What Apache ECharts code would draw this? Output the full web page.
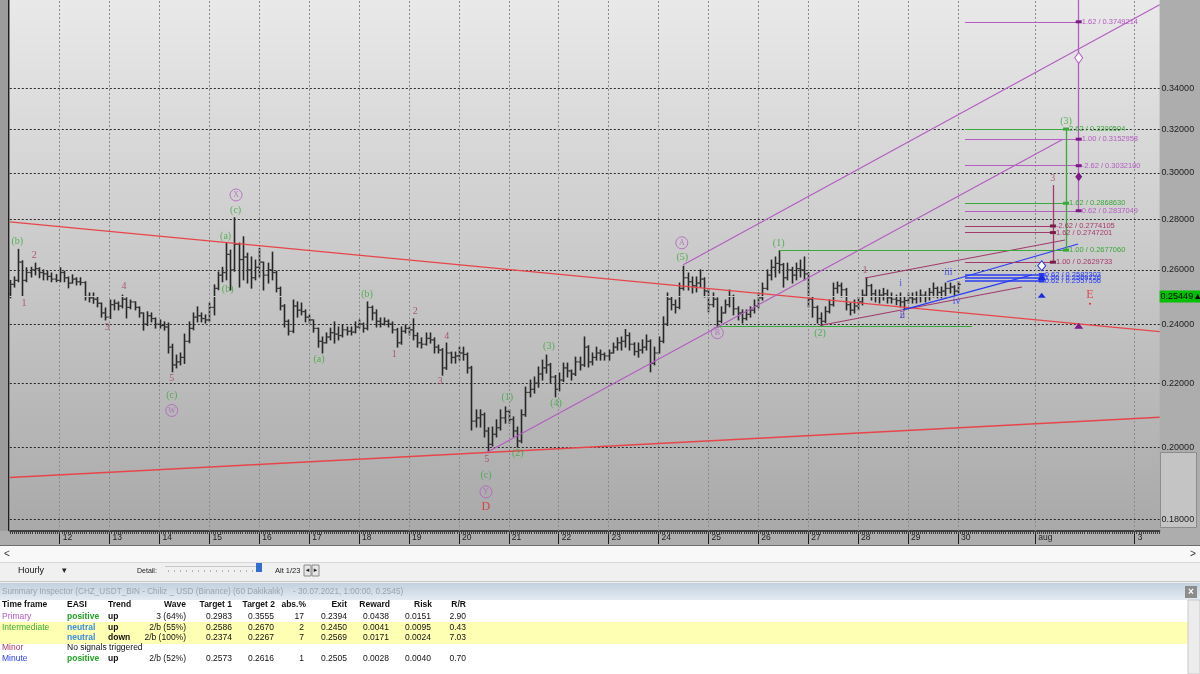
<!DOCTYPE html>
<html>
<head>
<meta charset="utf-8">
<title>CHZ/USDT hourly - Elliott wave chart</title>
<script src="https://cdn.jsdelivr.net/npm/echarts@6.0.0/dist/echarts.min.js"></script>
<style>
html,body{margin:0;padding:0;background:#f0f0f0;overflow:hidden;}
#chart{width:1200px;height:674px;}
</style>
</head>
<body>
<div id="chart"></div>
<script>
// ================= DATA =================
// 2-hour OHLC bars, first bar = 11 Jul 2021 00:00 (hour -24, hours counted from 12 Jul 00:00)
const BAR_FIRST_HOUR = -24;
const BAR_HOURS = 2;
const barOpen = [
0.2510,0.2545,0.2560,0.2630,0.2560,0.2590,0.2600,0.2605,0.2590,0.2585,
0.2575,0.2565,0.2560,0.2590,0.2570,0.2550,0.2565,0.2555,0.2552,0.2500,
0.2495,0.2490,0.2475,0.2440,0.2425,0.2470,0.2475,0.2465,0.2490,0.2460,
0.2480,0.2460,0.2440,0.2400,0.2430,0.2420,0.2400,0.2395,0.2390,0.2320,
0.2260,0.2270,0.2285,0.2340,0.2385,0.2425,0.2430,0.2420,0.2415,0.2460,
0.2530,0.2580,0.2590,0.2660,0.2600,0.2700,0.2640,0.2650,0.2600,0.2570,
0.2610,0.2630,0.2580,0.2600,0.2590,0.2530,0.2465,0.2410,0.2375,0.2465,
0.2450,0.2445,0.2425,0.2415,0.2385,0.2340,0.2335,0.2355,0.2370,0.2365,
0.2360,0.2380,0.2375,0.2372,0.2390,0.2400,0.2385,0.2460,0.2440,0.2410,
0.2400,0.2410,0.2400,0.2380,0.2335,0.2375,0.2385,0.2380,0.2360,0.2335,
0.2330,0.2350,0.2345,0.2320,0.2310,0.2250,0.2300,0.2285,0.2290,0.2300,
0.2295,0.2250,0.2080,0.2090,0.2100,0.2050,0.2010,0.2040,0.2060,0.2090,
0.2110,0.2085,0.2050,0.2020,0.2100,0.2170,0.2180,0.2200,0.2230,0.2250,
0.2260,0.2220,0.2180,0.2210,0.2250,0.2240,0.2230,0.2270,0.2260,0.2320,
0.2270,0.2285,0.2300,0.2295,0.2290,0.2300,0.2320,0.2335,0.2340,0.2360,
0.2330,0.2305,0.2310,0.2320,0.2340,0.2265,0.2300,0.2340,0.2400,0.2490,
0.2470,0.2460,0.2530,0.2570,0.2555,0.2540,0.2550,0.2565,0.2520,0.2470,
0.2490,0.2410,0.2440,0.2470,0.2500,0.2455,0.2440,0.2420,0.2435,0.2450,
0.2465,0.2495,0.2530,0.2580,0.2610,0.2625,0.2620,0.2570,0.2600,0.2580,
0.2605,0.2600,0.2585,0.2490,0.2460,0.2420,0.2410,0.2445,0.2470,0.2530,
0.2540,0.2525,0.2470,0.2450,0.2465,0.2480,0.2505,0.2540,0.2510,0.2500,
0.2505,0.2510,0.2495,0.2490,0.2485,0.2480,0.2485,0.2495,0.2490,0.2500,
0.2505,0.2500,0.2515,0.2530,0.2515,0.2520,0.2530,0.2535,0.2520];
const barHigh = [
0.2560,0.2573,0.2680,0.2635,0.2608,0.2610,0.2626,0.2608,0.2600,0.2595,
0.2588,0.2582,0.2608,0.2595,0.2573,0.2581,0.2570,0.2570,0.2555,0.2513,
0.2513,0.2498,0.2476,0.2458,0.2487,0.2487,0.2480,0.2505,0.2495,0.2487,
0.2480,0.2462,0.2440,0.2444,0.2440,0.2422,0.2415,0.2408,0.2404,0.2330,
0.2293,0.2300,0.2365,0.2408,0.2440,0.2462,0.2440,0.2433,0.2476,0.2543,
0.2592,0.2610,0.2705,0.2677,0.2808,0.2705,0.2730,0.2665,0.2650,0.2638,
0.2684,0.2630,0.2626,0.2669,0.2595,0.2535,0.2470,0.2415,0.2487,0.2480,
0.2476,0.2451,0.2433,0.2415,0.2386,0.2355,0.2369,0.2386,0.2408,0.2390,
0.2397,0.2390,0.2390,0.2408,0.2415,0.2404,0.2480,0.2465,0.2451,0.2422,
0.2422,0.2415,0.2408,0.2385,0.2390,0.2397,0.2390,0.2419,0.2369,0.2352,
0.2369,0.2369,0.2352,0.2327,0.2315,0.2334,0.2303,0.2303,0.2320,0.2320,
0.2300,0.2255,0.2115,0.2115,0.2105,0.2060,0.2062,0.2084,0.2115,0.2124,
0.2115,0.2093,0.2062,0.2115,0.2187,0.2210,0.2220,0.2253,0.2276,0.2293,
0.2265,0.2225,0.2233,0.2266,0.2266,0.2243,0.2286,0.2286,0.2355,0.2325,
0.2300,0.2320,0.2310,0.2300,0.2310,0.2334,0.2352,0.2355,0.2381,0.2369,
0.2335,0.2334,0.2345,0.2362,0.2345,0.2320,0.2355,0.2426,0.2513,0.2498,
0.2487,0.2550,0.2614,0.2588,0.2573,0.2573,0.2600,0.2570,0.2525,0.2513,
0.2495,0.2462,0.2487,0.2524,0.2505,0.2462,0.2451,0.2451,0.2462,0.2487,
0.2513,0.2550,0.2600,0.2638,0.2650,0.2675,0.2625,0.2626,0.2610,0.2626,
0.2638,0.2650,0.2590,0.2498,0.2465,0.2440,0.2462,0.2487,0.2550,0.2554,
0.2550,0.2530,0.2476,0.2487,0.2498,0.2524,0.2569,0.2545,0.2524,0.2524,
0.2530,0.2524,0.2513,0.2505,0.2513,0.2498,0.2513,0.2513,0.2517,0.2524,
0.2517,0.2530,0.2550,0.2535,0.2535,0.2550,0.2550,0.2540,0.2554];
const barLow = [
0.2495,0.2535,0.2555,0.2500,0.2555,0.2573,0.2581,0.2570,0.2562,0.2562,
0.2555,0.2555,0.2555,0.2555,0.2532,0.2550,0.2543,0.2543,0.2487,0.2480,
0.2475,0.2462,0.2425,0.2415,0.2420,0.2451,0.2451,0.2458,0.2422,0.2455,
0.2451,0.2425,0.2379,0.2395,0.2408,0.2386,0.2386,0.2379,0.2300,0.2237,
0.2250,0.2260,0.2265,0.2335,0.2380,0.2408,0.2408,0.2404,0.2410,0.2433,
0.2525,0.2555,0.2562,0.2524,0.2595,0.2535,0.2562,0.2550,0.2531,0.2562,
0.2573,0.2524,0.2550,0.2562,0.2517,0.2451,0.2390,0.2362,0.2370,0.2425,
0.2433,0.2408,0.2404,0.2372,0.2320,0.2300,0.2334,0.2345,0.2334,0.2345,
0.2355,0.2362,0.2362,0.2369,0.2386,0.2372,0.2380,0.2415,0.2390,0.2390,
0.2397,0.2390,0.2369,0.2320,0.2330,0.2369,0.2362,0.2345,0.2320,0.2317,
0.2327,0.2334,0.2300,0.2300,0.2226,0.2245,0.2266,0.2266,0.2276,0.2276,
0.2233,0.2053,0.2062,0.2062,0.2032,0.1989,0.2005,0.2032,0.2053,0.2074,
0.2074,0.2032,0.2002,0.2015,0.2095,0.2156,0.2168,0.2187,0.2210,0.2233,
0.2200,0.2156,0.2175,0.2205,0.2220,0.2210,0.2225,0.2243,0.2255,0.2253,
0.2260,0.2276,0.2276,0.2276,0.2276,0.2300,0.2310,0.2310,0.2320,0.2310,
0.2293,0.2286,0.2300,0.2310,0.2237,0.2260,0.2300,0.2335,0.2395,0.2451,
0.2440,0.2455,0.2524,0.2524,0.2513,0.2517,0.2535,0.2498,0.2444,0.2462,
0.2390,0.2405,0.2440,0.2462,0.2433,0.2415,0.2404,0.2415,0.2425,0.2440,
0.2458,0.2487,0.2525,0.2562,0.2573,0.2588,0.2535,0.2562,0.2550,0.2562,
0.2573,0.2562,0.2462,0.2425,0.2404,0.2395,0.2405,0.2440,0.2465,0.2513,
0.2498,0.2451,0.2433,0.2440,0.2451,0.2469,0.2500,0.2487,0.2480,0.2476,
0.2487,0.2476,0.2476,0.2470,0.2462,0.2451,0.2476,0.2476,0.2476,0.2480,
0.2480,0.2487,0.2498,0.2495,0.2495,0.2498,0.2513,0.2505,0.2513];
const barClose = [
0.2545,0.2560,0.2630,0.2560,0.2590,0.2600,0.2605,0.2590,0.2585,0.2575,
0.2565,0.2560,0.2590,0.2570,0.2550,0.2565,0.2555,0.2552,0.2500,0.2495,
0.2490,0.2475,0.2440,0.2425,0.2470,0.2475,0.2465,0.2490,0.2460,0.2480,
0.2460,0.2440,0.2400,0.2430,0.2420,0.2400,0.2395,0.2390,0.2320,0.2260,
0.2270,0.2285,0.2340,0.2385,0.2425,0.2430,0.2420,0.2415,0.2460,0.2530,
0.2580,0.2590,0.2660,0.2600,0.2700,0.2640,0.2650,0.2600,0.2570,0.2610,
0.2630,0.2580,0.2600,0.2590,0.2530,0.2465,0.2410,0.2375,0.2465,0.2450,
0.2445,0.2425,0.2415,0.2385,0.2340,0.2335,0.2355,0.2370,0.2365,0.2360,
0.2380,0.2375,0.2372,0.2390,0.2400,0.2385,0.2460,0.2440,0.2410,0.2400,
0.2410,0.2400,0.2380,0.2335,0.2375,0.2385,0.2380,0.2360,0.2335,0.2330,
0.2350,0.2345,0.2320,0.2310,0.2250,0.2300,0.2285,0.2290,0.2300,0.2295,
0.2250,0.2080,0.2090,0.2100,0.2050,0.2010,0.2040,0.2060,0.2090,0.2110,
0.2085,0.2050,0.2020,0.2100,0.2170,0.2180,0.2200,0.2230,0.2250,0.2260,
0.2220,0.2180,0.2210,0.2250,0.2240,0.2230,0.2270,0.2260,0.2320,0.2270,
0.2285,0.2300,0.2295,0.2290,0.2300,0.2320,0.2335,0.2340,0.2360,0.2330,
0.2305,0.2310,0.2320,0.2340,0.2265,0.2300,0.2340,0.2400,0.2490,0.2470,
0.2460,0.2530,0.2570,0.2555,0.2540,0.2550,0.2565,0.2520,0.2470,0.2490,
0.2410,0.2440,0.2470,0.2500,0.2455,0.2440,0.2420,0.2435,0.2450,0.2465,
0.2495,0.2530,0.2580,0.2610,0.2625,0.2620,0.2570,0.2600,0.2580,0.2605,
0.2600,0.2585,0.2490,0.2460,0.2420,0.2410,0.2445,0.2470,0.2530,0.2540,
0.2525,0.2470,0.2450,0.2465,0.2480,0.2505,0.2540,0.2510,0.2500,0.2505,
0.2510,0.2495,0.2490,0.2485,0.2480,0.2485,0.2495,0.2490,0.2500,0.2505,
0.2500,0.2515,0.2530,0.2515,0.2520,0.2530,0.2535,0.2520,0.2545];
const lastPrice = 0.25449;

// time axis ticks (hours from 12 Jul 00:00)
const dayTickHours  = [0,24,48,72,96,120,144,168,192,216,240,264,288,312,336,360,384,408,432,469.2,517];
const dayTickLabels = ['12','13','14','15','16','17','18','19','20','21','22','23','24','25','26','27','28','29','30','aug','3'];
// price ticks
const priceTicks      = [0.18,0.20,0.22,0.24,0.26,0.28,0.30,0.32,0.34];
const priceTickLabels = ['0.18000','0.20000','0.22000','0.24000','0.26000','0.28000','0.30000','0.32000','0.34000'];
const axisMinHour = -24, axisMaxHour = 529;
const axisMinPrice = 0.17688, axisMaxPrice = 0.38717;

// Elliott wave labels
const waveText   = ['(b)','2','1','4','3','5','(c)','W','(a)','(b)','(c)','X','(a)','(b)','1','2','4','3','5','(c)','Y','D','(1)','(2)','(3)','(4)','(5)','A','B','(1)','(2)','1','i','2','ii','iii','iv','3','(3)','E'];
const waveHour   = [-20.4,-12.2,-17.2,30.9,22.9,53.9,53.9,53.9,79.8,80.8,84.6,84.8,124.7,147.8,160.9,171.0,186.1,183.0,205.4,205.0,205.0,205.0,215.3,220.3,235.3,238.7,299.4,299.2,316.3,345.8,365.7,387.3,404.5,405.1,405.4,427.4,431.4,477.6,484.0,495.5];
const wavePrice  = [0.2710,0.2658,0.2475,0.2539,0.2389,0.2216,0.2162,0.2113,0.2730,0.2527,0.2837,0.2904,0.2279,0.2508,0.2296,0.2447,0.2358,0.2205,0.1966,0.1919,0.1874,0.1832,0.2155,0.1984,0.2321,0.2136,0.2649,0.2706,0.2370,0.2704,0.2368,0.2597,0.2550,0.2433,0.2433,0.2589,0.2481,0.2977,0.3239,0.2505];
const waveDegree = ['Int','Minor','Minor','Minor','Minor','Minor','Int','Prim','Int','Int','Int','Prim','Int','Int','Minor','Minor','Minor','Minor','Minor','Int','Prim','Cycle','Int','Int','Int','Int','Int','Prim','Prim','Int','Int','Minor','Minute','Minor','Minute','Minute','Minute','Minor','Int','Cycle'];

// trend / channel lines [hour1, price1, hour2, price2]
const trendDegree = ['Cycle','Cycle','Prim','Prim','Minor','Minor','Minute','Minute','Int'];
const trendH1 = [-24, -24, 205.6, 299.9, 387.3, 365.7, 426.7, 405.6, 316.5];
const trendP1 = [0.2791, 0.1914, 0.1987, 0.2620, 0.2569, 0.2395, 0.2555, 0.2451, 0.2394];
const trendH2 = [529, 529, 482.5, 529, 483.5, 462.8, 489.8, 467.6, 438.8];
const trendP2 = [0.2374, 0.2092, 0.3153, 0.3845, 0.2717, 0.2535, 0.2701, 0.2581, 0.2394];

// Fibonacci target lines
const targetDegree = ['Prim','Prim','Prim','Prim','Int','Int','Int','Minor','Minor','Minor','Minute','Minute','Minute'];
const targetText   = ['1.62 / 0.3749214','1.00 / 0.3152958','-2.62 / 0.3032100','0.62 / 0.2837049','2.62 / 0.3200504','1.62 / 0.2868630','1.00 / 0.2677060','-2.62 / 0.2774105','1.62 / 0.2747201','1.00 / 0.2629733','0.62 / 0.2582303','1.00 / 0.2569726','0.62 / 0.2557556'];
const targetPrice  = [0.3749214,0.3152958,0.3032100,0.2837049,0.3200504,0.2868630,0.2677060,0.2774105,0.2747201,0.2629733,0.2582303,0.2569726,0.2557556];
const targetFromHour = [435.4,435.4,435.4,435.4,435.4,435.4,346.0,435.4,435.4,435.4,435.4,435.4,435.4];
const degreeTargetHour = {Prim:490.1, Int:484.0, Minor:477.7, Minute:472.3};
const degreeVertical = {Prim:[0.38717,0.2837049], Int:[0.3200504,0.2677060], Minor:[0.2947,0.2629733]};

// Summary inspector
const tfName    = ['Primary','Intermediate','','Minor','Minute'];
const tfDegree  = ['Prim','Int','Int','Minor','Minute'];
const tfEasi    = ['positive','neutral','neutral','No signals triggered','positive'];
const tfTrend   = ['up','up','down','','up'];
const tfWave    = ['3 (64%)','2/b (55%)','2/b (100%)','','2/b (52%)'];
const tfTarget1 = ['0.2983','0.2586','0.2374','','0.2573'];
const tfTarget2 = ['0.3555','0.2670','0.2267','','0.2616'];
const tfAbs     = ['17','2','7','','1'];
const tfExit    = ['0.2394','0.2450','0.2569','','0.2505'];
const tfReward  = ['0.0438','0.0041','0.0171','','0.0028'];
const tfRisk    = ['0.0151','0.0095','0.0024','','0.0040'];
const tfRR      = ['2.90','0.43','7.03','','0.70'];

// ================= STYLES =================
const COL = {Cycle:'#e8454a', Prim:'#b45cc2', Int:'#3aa83a', Minor:'#a23a6c', Minute:'#2a3cf2'};
const TXT = {Cycle:'#e02c2c', Prim:'#b45cc2', Int:'#3aa83a', Minor:'#a8386c', Minute:'#2a3cf2'};
const SANS = '"Liberation Sans", Arial, sans-serif';
const SERIF = '"Liberation Serif", "Times New Roman", serif';

const chart = echarts.init(document.getElementById('chart'), null, {renderer:'canvas'});

const ohlcData = barOpen.map((o, i) => [BAR_FIRST_HOUR + i * BAR_HOURS, o, barClose[i], barLow[i], barHigh[i]]);

function renderOHLC(params, api) {
  const t = api.value(0);
  const pO = api.coord([t, api.value(1)]);
  const pC = api.coord([t, api.value(2)]);
  const pL = api.coord([t, api.value(3)]);
  const pH = api.coord([t, api.value(4)]);
  const cx = Math.round(pO[0]) + 0.5;
  const st = {stroke:'#262626', lineWidth:1.6};
  const tk = {stroke:'#3a3a3a', lineWidth:1.2};
  return {type:'group', children:[
    {type:'line', shape:{x1:cx, y1:pH[1]-0.5, x2:cx, y2:pL[1]+0.5}, style:st},
    {type:'line', shape:{x1:cx-2.3, y1:pO[1], x2:cx, y2:pO[1]}, style:tk},
    {type:'line', shape:{x1:cx, y1:pC[1], x2:cx+2.3, y2:pC[1]}, style:tk}
  ]};
}

// grid lines
const gridMarks = [];
priceTicks.forEach((p, i) => gridMarks.push({yAxis:p, lineStyle:{color:'#262626', type:[2,2], width:1},
  label:{show:true, position:'end', formatter:priceTickLabels[i], color:'#1c1c1c', fontSize:9, fontFamily:SANS, distance:2}}));
dayTickHours.forEach(h => gridMarks.push({xAxis:h, lineStyle:{color:'#8c8c8c', type:[2,2], width:1}, label:{show:false}}));
gridMarks.push({yAxis:lastPrice, lineStyle:{color:'#c6c6c6', type:'solid', width:1},
  label:{show:true, position:'end', formatter:'0.25449▲', backgroundColor:'#00c000', color:'#000', fontSize:9, fontFamily:SANS, padding:[2,1,1,1], distance:0}});

// trend + target lines
const lineMarks = [];
trendDegree.forEach((d, i) => lineMarks.push([
  {coord:[trendH1[i], trendP1[i]], lineStyle:{color:COL[d], width:d === 'Cycle' ? 1.3 : 1.1, type:'solid'}},
  {coord:[trendH2[i], trendP2[i]]}]));
targetDegree.forEach((d, i) => lineMarks.push([
  {coord:[targetFromHour[i], targetPrice[i]], lineStyle:{color:COL[d], width:d === 'Minute' ? 1.6 : 1.2, type:'solid'},
   label:{show:true, position:'end', formatter:targetText[i], color:TXT[d], fontSize:7.5, fontFamily:SANS, distance:3}},
  {coord:[degreeTargetHour[d], targetPrice[i]]}]));
Object.keys(degreeVertical).forEach(d => lineMarks.push([
  {coord:[degreeTargetHour[d], degreeVertical[d][0]], lineStyle:{color:COL[d], width:1.3, type:'solid'}},
  {coord:[degreeTargetHour[d], degreeVertical[d][1]]}]));

// markers
const markers = [];
targetDegree.forEach((d, i) => markers.push({coord:[degreeTargetHour[d], targetPrice[i]], symbol:'rect', symbolSize:[6,3], itemStyle:{color: d === 'Minor' ? '#7a1c4a' : (d === 'Prim' ? '#7e1a86' : COL[d])}}));
markers.push({coord:[degreeTargetHour.Prim, parseFloat(tfTarget2[0])], symbol:'diamond', symbolSize:[8,11], itemStyle:{color:'#ffffff', borderColor:'#b45cc2', borderWidth:1}});
markers.push({coord:[degreeTargetHour.Prim, parseFloat(tfTarget1[0])], symbol:'diamond', symbolSize:[7,9], itemStyle:{color:'#7e1a86'}});
markers.push({coord:[degreeTargetHour.Prim, parseFloat(tfExit[0])], symbol:'triangle', symbolSize:[9,6], itemStyle:{color:'#7e1a86'}});
markers.push({coord:[degreeTargetHour.Minute, parseFloat(tfTarget2[4])], symbol:'diamond', symbolSize:[8,10], itemStyle:{color:'#ffffff', borderColor:'#2a3cf2', borderWidth:1}});
markers.push({coord:[degreeTargetHour.Minute, parseFloat(tfTarget1[4])], symbol:'triangle', symbolSize:[8,6], itemStyle:{color:'#1a2ce0'}});
markers.push({coord:[degreeTargetHour.Minute, parseFloat(tfExit[4])], symbol:'triangle', symbolSize:[8,5], itemStyle:{color:'#1a2ce0'}});
markers.push({coord:[495.5, 0.2473], symbol:'circle', symbolSize:2, itemStyle:{color:'#e02c2c'}});

// wave label series
function waveSeries(deg) {
  const data = [];
  waveText.forEach((t, i) => { if (waveDegree[i] === deg) data.push({value:[waveHour[i], wavePrice[i]], name:t}); });
  const circled = deg === 'Prim';
  return {
    type:'scatter', z:6, silent:true, symbolSize:1, itemStyle:{color:'rgba(0,0,0,0)'}, data:data,
    label:{show:true, position:'inside', align:'center', verticalAlign:'middle',
      formatter: circled ? (p => '{c|' + p.name + '}') : (p => p.name),
      color:TXT[deg], fontFamily:SERIF, fontSize: deg === 'Cycle' ? 12 : 10,
      rich: circled ? {c:{color:TXT.Prim, fontFamily:SERIF, fontSize:8, borderColor:TXT.Prim, borderWidth:1, borderRadius:6.5, width:12, height:12, lineHeight:12, align:'center', verticalAlign:'middle'}} : undefined}
  };
}

// ================= UI CHROME =================
const ui = [];
function R(x, y, w, h, fill, stroke, z) {
  ui.push({type:'rect', silent:true, z: z === undefined ? 50 : z, shape:{x:x, y:y, width:w, height:h}, style:{fill:fill, stroke:stroke || 'none', lineWidth:1}});
}
function T(x, y, t, o) {
  o = o || {};
  const a = o.align || 'left';
  ui.push({type:'text', silent:true, z:60, x:x, y:y, style:{text:t, fill:o.fill || '#111', font:o.font || ('9px ' + SANS),
    align:a, textAlign:a, verticalAlign:'middle', textVerticalAlign:'middle'}});
}
// frame pieces around plot
R(0, 0, 9.8, 531, '#9c9c9c', null, 1);
R(8, 0, 1.2, 531, '#1e1e1e', null, 1);
R(1160.5, 452.5, 36, 75, '#c4c4c4', '#8c8c8c', 1);
// bottom panel
R(0, 545, 1200, 129, '#f0f0f0');
R(0, 545, 1200, 1, '#6e6e6e');
R(0, 546, 1200, 16, '#f8f8f8');
T(4, 554, '<', {font:'10px ' + SANS, fill:'#333'});
T(1190, 554, '>', {font:'10px ' + SANS, fill:'#333'});
R(0, 562, 1200, 1, '#d6d6d6');
T(18, 570.5, 'Hourly', {font:'9px ' + SANS});
T(62, 570.5, '▾', {font:'9px "DejaVu Sans"', fill:'#222'});
T(137, 571, 'Detail:', {font:'7px ' + SANS, fill:'#222'});
R(165, 566, 93, 1, '#c8c8c8');
for (let k = 0; k < 16; k++) R(168 + k * 6, 570, 1, 2, '#b4b4b4');
R(256, 563, 6, 9, '#2f6fd2');
T(275, 570.5, 'Alt 1/23', {font:'7.5px ' + SANS, fill:'#222'});
R(304, 565, 7, 11, '#e6e6e6', '#8a8a8a');
R(312, 565, 7, 11, '#e6e6e6', '#8a8a8a');
T(307.5, 570.5, '◂', {font:'7px "DejaVu Sans"', align:'center', fill:'#222'});
T(315.5, 570.5, '▸', {font:'7px "DejaVu Sans"', align:'center', fill:'#222'});
R(0, 581, 1200, 1, '#c8c8c8');
ui.push({type:'rect', silent:true, z:50, shape:{x:0, y:583, width:1200, height:17},
  style:{fill:new echarts.graphic.LinearGradient(0, 0, 0, 1, [{offset:0, color:'#c2d0de'}, {offset:1, color:'#e4ebf2'}])}});
T(2, 592, 'Summary Inspector (CHZ_USDT_BIN - Chiliz _ USD (Binance) (60 Dakikalık)', {fill:'#98a4b0', font:'8.2px ' + SANS});
T(293, 592, '- 30.07.2021, 1:00:00, 0.2545)', {fill:'#98a4b0', font:'8.2px ' + SANS});
R(1185, 586, 12, 12, '#8c8c8c');
T(1191, 592, '×', {align:'center', fill:'#fff', font:'bold 10px ' + SANS});
R(0, 600, 1188, 74, '#ffffff');
R(0, 622, 1188, 22, '#ffffb4');
R(1188, 600, 12, 74, '#ececec', '#c8c8c8');
// table
const HB = 'bold 8.5px ' + SANS;
const rowY = [616.5, 627.3, 637.8, 648, 658.5];
T(2, 605, 'Time frame', {font:HB}); T(67, 605, 'EASI', {font:HB}); T(108, 605, 'Trend', {font:HB});
T(186, 605, 'Wave', {font:HB, align:'right'}); T(232, 605, 'Target 1', {font:HB, align:'right'});
T(275, 605, 'Target 2', {font:HB, align:'right'}); T(306, 605, 'abs.%', {font:HB, align:'right'});
T(347, 605, 'Exit', {font:HB, align:'right'}); T(390, 605, 'Reward', {font:HB, align:'right'});
T(432, 605, 'Risk', {font:HB, align:'right'}); T(466, 605, 'R/R', {font:HB, align:'right'});
const easiColor = {positive:'#22a022', neutral:'#3a8ee0'};
tfName.forEach((n, r) => {
  const y = rowY[r];
  if (n) T(2, y, n, {font:'8.5px ' + SANS, fill:TXT[tfDegree[r]]});
  T(67, y, tfEasi[r], {font:(easiColor[tfEasi[r]] ? 'bold ' : '') + '8.5px ' + SANS, fill:easiColor[tfEasi[r]] || '#111'});
  T(108, y, tfTrend[r], {font:'bold 8.5px ' + SANS});
  T(186, y, tfWave[r], {font:'8.5px ' + SANS, align:'right'});
  T(232, y, tfTarget1[r], {font:'8.5px ' + SANS, align:'right'});
  T(274, y, tfTarget2[r], {font:'8.5px ' + SANS, align:'right'});
  T(304, y, tfAbs[r], {font:'8.5px ' + SANS, align:'right'});
  T(347, y, tfExit[r], {font:'8.5px ' + SANS, align:'right'});
  T(389, y, tfReward[r], {font:'8.5px ' + SANS, align:'right'});
  T(431, y, tfRisk[r], {font:'8.5px ' + SANS, align:'right'});
  T(466, y, tfRR[r], {font:'8.5px ' + SANS, align:'right'});
});

// ================= OPTION =================
const option = {
  animation:false,
  backgroundColor:'#adadad',
  grid:{left:9.8, right:40.4, top:0, height:531, show:true, borderWidth:0,
    backgroundColor:new echarts.graphic.LinearGradient(0, 0, 0, 1, [{offset:0, color:'#e9e9e9'}, {offset:1, color:'#a9a9a9'}])},
  xAxis:[
    {type:'value', min:axisMinHour, max:axisMaxHour, position:'bottom',
      axisLine:{show:true, onZero:false, lineStyle:{color:'#1e1e1e', width:1.5}},
      axisTick:{show:true, customValues:dayTickHours, length:13, lineStyle:{color:'#1e1e1e'}},
      axisLabel:{show:true, customValues:dayTickHours, formatter:v => { const k = dayTickHours.indexOf(v); return k >= 0 ? dayTickLabels[k] : ''; },
        color:'#1e1e1e', fontSize:8.5, fontFamily:SANS, align:'left', margin:2, padding:[0,0,0,3]},
      splitLine:{show:false}},
    {type:'value', min:axisMinHour, max:axisMaxHour, interval:1, position:'bottom', gridIndex:0,
      axisLine:{show:false, onZero:false}, axisTick:{show:true, length:3, lineStyle:{color:'#3c3c3c'}},
      axisLabel:{show:false}, splitLine:{show:false}}
  ],
  yAxis:{type:'log', logBase:10, min:axisMinPrice, max:axisMaxPrice, position:'right',
    axisLine:{show:false}, axisTick:{show:false}, axisLabel:{show:false}, splitLine:{show:false}},
  graphic:ui,
  series:[
    {type:'line', z:1, silent:true, data:[[axisMinHour, lastPrice]], showSymbol:false, lineStyle:{opacity:0},
      markLine:{silent:true, symbol:['none','none'], animation:false, data:gridMarks}},
    {type:'custom', z:3, silent:true, renderItem:renderOHLC, data:ohlcData, encode:{x:0, y:[1,2,3,4]}, clip:true},
    {type:'line', z:4, silent:true, data:[[axisMinHour, lastPrice]], showSymbol:false, lineStyle:{opacity:0},
      markLine:{silent:true, symbol:['none','none'], animation:false, label:{show:false}, data:lineMarks},
      markPoint:{silent:true, animation:false, label:{show:false}, data:markers}},
    waveSeries('Int'), waveSeries('Minor'), waveSeries('Prim'), waveSeries('Minute'), waveSeries('Cycle')
  ]
};
chart.setOption(option);
</script>
</body>
</html>
